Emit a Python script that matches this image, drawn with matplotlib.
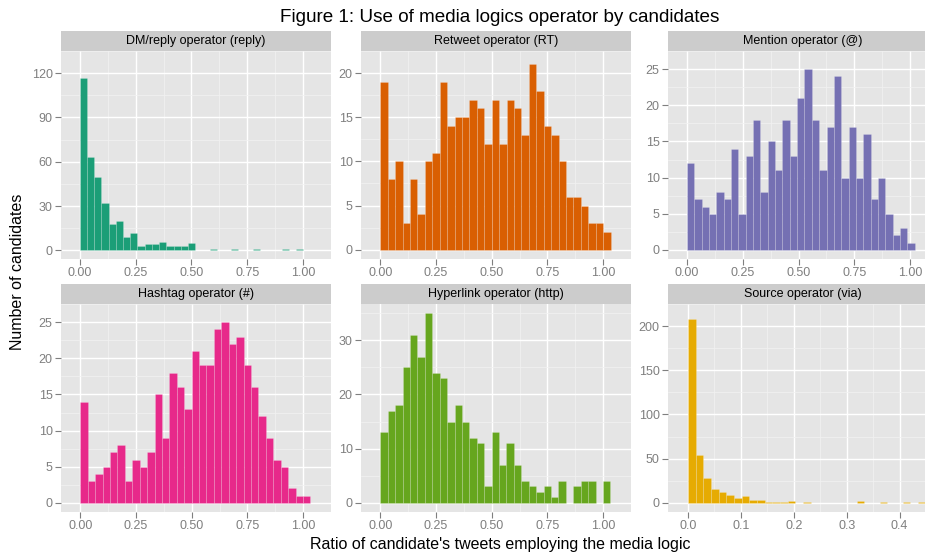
import numpy as np
import matplotlib
matplotlib.use("Agg")
import matplotlib.pyplot as plt

plt.rcParams['font.family'] = ['Liberation Sans', 'DejaVu Sans']

# Counts per bin (31 bins per panel, starting at 0)
dm_counts = [117, 63, 50, 32, 18, 20, 9, 12, 3, 4, 4, 6, 3, 3, 3, 5,
             0, 0, 1, 0, 0, 1, 0, 0, 1, 0, 0, 0, 1, 0, 1]
rt_counts = [19, 8, 10, 3, 8, 4, 10, 11, 19, 14, 15, 15, 17, 16, 12, 17,
             12, 17, 16, 13, 21, 18, 14, 13, 10, 6, 6, 5, 3, 3, 2]
mention_counts = [12, 7, 6, 5, 8, 7, 14, 5, 13, 18, 8, 15, 11, 18, 13, 21,
                  25, 18, 11, 17, 24, 10, 17, 10, 16, 7, 10, 5, 2, 3, 1]
hashtag_counts = [14, 3, 4, 5, 7, 8, 3, 6, 5, 7, 15, 9, 18, 16, 13, 21,
                  19, 19, 24, 25, 22, 23, 19, 16, 12, 9, 6, 5, 2, 1, 1]
hyperlink_counts = [13, 17, 18, 25, 31, 27, 35, 24, 23, 15, 18, 15, 12, 11, 3, 13,
                    7, 11, 7, 4, 3, 2, 3, 1, 4, 0, 3, 4, 4, 0, 4]
source_counts = [208, 54, 28, 16, 12, 9, 5, 8, 3, 3, 1, 1, 1, 2, 0, 1,
                 0, 0, 0, 0, 0, 0, 2, 0, 0, 1, 0, 0, 1, 0, 1]

bin_widths = [0.0323, 1 / 30, 0.0329, 0.0333, 0.0333, 0.0145]

titles = ["DM/reply operator (reply)", "Retweet operator (RT)", "Mention operator (@)",
          "Hashtag operator (#)", "Hyperlink operator (http)", "Source operator (via)"]
colors = ["#1B9E77", "#D95F02", "#7570B3", "#E7298A", "#66A61E", "#E6AB02"]

y_ticks = [[0, 30, 60, 90, 120], [0, 5, 10, 15, 20], [0, 5, 10, 15, 20, 25],
           [0, 5, 10, 15, 20, 25], [0, 10, 20, 30], [0, 50, 100, 150, 200]]
x_ticks = [[0, 0.25, 0.5, 0.75, 1.0]] * 5 + [[0, 0.1, 0.2, 0.3, 0.4]]
x_labels = [["0.00", "0.25", "0.50", "0.75", "1.00"]] * 5 + [["0.0", "0.1", "0.2", "0.3", "0.4"]]

all_counts = [dm_counts, rt_counts, mention_counts, hashtag_counts, hyperlink_counts, source_counts]

W, H = 925, 552
fig = plt.figure(figsize=(W / 100, H / 100), dpi=100)

lefts = [61, 361, 668]
tops = [51, 304]
pw, ph, sh = 270, 208, 20

for i, counts in enumerate(all_counts):
    r, c = divmod(i, 3)
    x0, y0 = lefts[c], tops[r]
    ax = fig.add_axes([x0 / W, 1 - (y0 + ph) / H, pw / W, ph / H])
    sax = fig.add_axes([x0 / W, 1 - y0 / H, pw / W, sh / H])

    w = bin_widths[i]
    counts = np.array(counts)
    edges = np.arange(len(counts)) * w
    ax.bar(edges, counts, width=w, align='edge', color=colors[i],
           edgecolor=(1, 1, 1, 0.22), linewidth=0.5, zorder=3)

    # ggplot style limits: an empty bin to the left, 5% expansion
    lo, hi = -w, len(counts) * w
    pad = 0.05 * (hi - lo)
    ax.set_xlim(lo - pad, hi + pad)
    ymax = counts.max()
    ax.set_ylim(-0.05 * ymax, 1.05 * ymax)

    xt = x_ticks[i]
    yt = y_ticks[i]
    ax.set_xticks(xt)
    ax.set_xticklabels(x_labels[i])
    ax.set_yticks(yt)
    ax.set_xticks([(a + b) / 2 for a, b in zip(xt[:-1], xt[1:])] + [xt[-1] + (xt[1] - xt[0]) / 2], minor=True)
    ax.set_yticks([(a + b) / 2 for a, b in zip(yt[:-1], yt[1:])] + [yt[-1] + (yt[1] - yt[0]) / 2], minor=True)

    ax.set_facecolor("#E5E5E5")
    ax.grid(which='major', color='white', linewidth=1.0, zorder=1)
    ax.grid(which='minor', color='#F2F2F2', linewidth=0.5, zorder=1)
    ax.set_axisbelow(True)
    for s in ax.spines.values():
        s.set_visible(False)
    ax.tick_params(which='major', color='#7F7F7F', labelcolor='#7F7F7F',
                   labelsize=9, length=4, width=0.8, pad=2)
    ax.tick_params(which='minor', length=0)

    sax.set_facecolor("#CCCCCC")
    sax.set_xticks([])
    sax.set_yticks([])
    for s in sax.spines.values():
        s.set_visible(False)
    sax.text(0.5, 0.5, titles[i], ha='center', va='center', fontsize=9, color='black',
             transform=sax.transAxes)

fig.text(500 / W, 1 - 18 / H, "Figure 1: Use of media logics operator by candidates",
         ha='center', va='center', fontsize=13.6)
fig.text(500 / W, 1 - 544 / H, "Ratio of candidate's tweets employing the media logic",
         ha='center', va='center', fontsize=11.5)
fig.text(18 / W, 1 - 272 / H, "Number of candidates", ha='center', va='center',
         rotation=90, fontsize=11.5)

fig.savefig("out.png", dpi=100)
